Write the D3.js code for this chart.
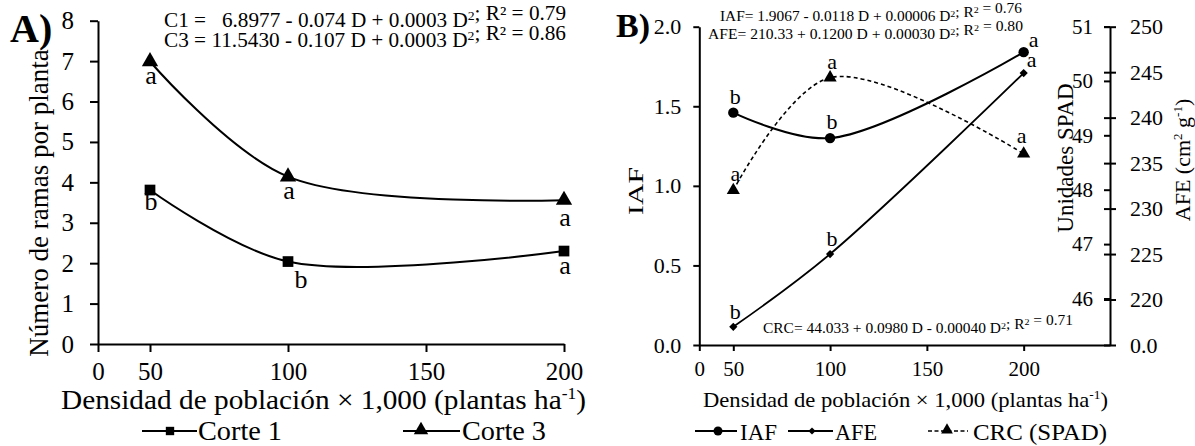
<!DOCTYPE html>
<html><head><meta charset="utf-8">
<script src="https://cdn.jsdelivr.net/npm/d3@7"></script>
<style>
html,body{margin:0;padding:0;background:#fff;}
</style></head>
<body><svg id="chart" width="1195" height="446" font-family="Liberation Serif"></svg>
<script>
// ---------- data ----------
const densities = [50, 100, 200];
const xTickValues = [0, 50, 100, 150, 200];
// Panel A
const corte1 = [3.81, 2.04, 2.30];
const corte3 = [6.99, 4.14, 3.56];
const corte1Letters = ["b", "b", "a"];
const corte3Letters = ["a", "a", "a"];
const yTicksA = [0, 1, 2, 3, 4, 5, 6, 7, 8];
// Panel B
const iaf = [1.46, 1.30, 1.84];
const afe = [217.0, 225.0, 244.9];
const crc = [47.99, 50.06, 48.66];
const iafLetters = ["b", "b", "a"];
const afeLetters = ["b", "b", "a"];
const crcLetters = ["a", "a", "a"];
const iafTicks = [0, 0.5, 1.0, 1.5, 2.0];
const spadTicks = [46, 47, 48, 49, 50, 51];
const afeTicks = [215, 220, 225, 230, 235, 240, 245, 250];
const afeTickLabels = ["0.0", "220", "225", "230", "235", "240", "245", "250"];

const svg = d3.select("#chart");
const FAM = "Liberation Serif";

function styleAxis(g, fs) {
  g.attr("font-family", FAM);
  g.selectAll("path.domain").attr("stroke", "#000").attr("stroke-width", 2);
  g.selectAll(".tick line").attr("stroke", "#000").attr("stroke-width", 2);
  g.selectAll(".tick text").attr("font-size", fs).attr("fill", "#000").attr("font-family", FAM);
}
function txt(x, y, fs) {
  return svg.append("text").attr("x", x).attr("y", y).attr("font-size", fs).attr("font-family", FAM).attr("fill", "#000");
}
function stretch(t, len) {
  t.attr("textLength", len).attr("lengthAdjust", "spacingAndGlyphs");
  return t;
}

// =============== PANEL A ===============
const xA = d3.scaleLinear().domain([0, 50, 200]).range([98, 150, 564]);
const yA = d3.scaleLinear().domain([0, 8]).range([344, 20.7]);

const gxA = svg.append("g").attr("transform", `translate(0,${yA(0)})`)
  .call(d3.axisBottom(xA).tickValues(xTickValues).tickSize(8).tickSizeOuter(0).tickPadding(10).tickFormat(d3.format("d")));
styleAxis(gxA, 25);
const gyA = svg.append("g").attr("transform", `translate(${xA(0)},0)`)
  .call(d3.axisLeft(yA).tickValues(yTicksA).tickSize(8).tickSizeOuter(0).tickPadding(16).tickFormat(d3.format("d")));
styleAxis(gyA, 25);

const lineA = d3.line().x((d, i) => xA(densities[i])).y(d => yA(d)).curve(d3.curveCatmullRom.alpha(0.5));
svg.append("path").attr("d", lineA(corte1)).attr("fill", "none").attr("stroke", "#000").attr("stroke-width", 2);
svg.append("path").attr("d", lineA(corte3)).attr("fill", "none").attr("stroke", "#000").attr("stroke-width", 2);

const sq = d3.symbol().type(d3.symbolSquare).size(115);
const triA = d3.symbol().type(d3.symbolTriangle).size(115);
svg.selectAll(".m1").data(corte1).join("path").attr("d", sq)
  .attr("transform", (d, i) => `translate(${xA(densities[i])},${yA(d)})`).attr("fill", "#000");
svg.selectAll(".m3").data(corte3).join("path").attr("d", triA)
  .attr("transform", (d, i) => `translate(${xA(densities[i])},${yA(d)})`).attr("fill", "#000");

corte1.forEach((d, i) => {
  txt(xA(densities[i]) + (i === 1 ? 13 : 1), yA(d) + (i === 1 ? 26 : (i === 0 ? 20 : 23)), 26)
    .attr("text-anchor", "middle").text(corte1Letters[i]);
});
corte3.forEach((d, i) => {
  txt(xA(densities[i]) + 1, yA(d) + (i === 2 ? 26 : 22), 26)
    .attr("text-anchor", "middle").text(corte3Letters[i]);
});

// Panel A texts
txt(10, 42, 40).attr("font-weight", "bold").text("A)");

function eqLine(x, y, fs, parts, len) {
  const t = txt(x, y, fs).attr("xml:space", "preserve");
  parts.forEach(p => {
    if (typeof p === "string") t.append("tspan").text(p);
    else t.append("tspan").attr("font-size", fs * 0.65).attr("dy", p.dy).text(p.t);
  });
  if (len) stretch(t, len);
  return t;
}
eqLine(164, 27, 20, ["C1 =   6.8977 - 0.074 D + 0.0003 D", {t: "2", dy: -7}, {t: "", dy: 7}, "; R² = 0.79"], 402);
eqLine(164, 47, 20, ["C3 = 11.5430 - 0.107 D + 0.0003 D", {t: "2", dy: -7}, {t: "", dy: 7}, "; R² = 0.86"], 402);

txt(0, 0, 27).attr("transform", "translate(48,203) rotate(-90)").attr("text-anchor", "middle")
  .text("Número de ramas por planta");

const xtA = txt(61, 409, 27);
xtA.append("tspan").text("Densidad de población × 1,000 (plantas ha");
xtA.append("tspan").attr("font-size", 16).attr("dy", -10).text("-1");
xtA.append("tspan").attr("dy", 10).text(")");
stretch(xtA, 525);

// legend A
svg.append("line").attr("x1", 142).attr("x2", 197).attr("y1", 431).attr("y2", 431).attr("stroke", "#000").attr("stroke-width", 2);
svg.append("path").attr("d", d3.symbol().type(d3.symbolSquare).size(70)).attr("transform", "translate(170,431)");
stretch(txt(198, 440, 27).text("Corte 1"), 84);
svg.append("line").attr("x1", 403).attr("x2", 460).attr("y1", 431).attr("y2", 431).attr("stroke", "#000").attr("stroke-width", 2);
svg.append("path").attr("d", d3.symbol().type(d3.symbolTriangle).size(90)).attr("transform", "translate(421,430)");
stretch(txt(462, 440, 27).text("Corte 3"), 84);

// =============== PANEL B ===============
const xB = d3.scaleLinear().domain([0, 50, 244.6]).range([699.3, 733.3, 1110]);
const yIAF = d3.scaleLinear().domain([0, 2]).range([345, 26.7]);
const ySPAD = d3.scaleLinear().domain([46, 51]).range([298.5, 26.5]);
const yAFE = d3.scaleLinear().domain([215, 250]).range([345, 26.7]);

const gxB = svg.append("g").attr("transform", `translate(0,${yIAF(0)})`)
  .call(d3.axisBottom(xB).tickValues(xTickValues).tickSize(6).tickSizeOuter(0).tickPadding(10).tickFormat(d3.format("d")));
styleAxis(gxB, 21);
const gyB = svg.append("g").attr("transform", `translate(${xB(0)},0)`)
  .call(d3.axisLeft(yIAF).tickValues(iafTicks).tickSize(6).tickSizeOuter(0).tickPadding(12).tickFormat(d3.format(".1f")));
styleAxis(gyB, 22);
const xR = xB(244.6);
const gAfe = svg.append("g").attr("transform", `translate(${xR},0)`)
  .call(d3.axisRight(yAFE).tickValues(afeTicks).tickSize(6).tickSizeOuter(0).tickPadding(14)
    .tickFormat((d, i) => afeTickLabels[i]));
styleAxis(gAfe, 22);
gAfe.selectAll(".tick line").attr("x1", -6);
const gSpad = svg.append("g").attr("transform", `translate(${xR},0)`)
  .call(d3.axisLeft(ySPAD).tickValues(spadTicks).tickSize(6).tickSizeOuter(0).tickPadding(11).tickFormat(d3.format("d")));
styleAxis(gSpad, 21);
gSpad.select("path.domain").remove();

const lineIAF = d3.line().x((d, i) => xB(densities[i])).y(d => yIAF(d)).curve(d3.curveCatmullRom.alpha(0.5));
const lineAFE = d3.line().x((d, i) => xB(densities[i])).y(d => yAFE(d)).curve(d3.curveCatmullRom.alpha(0.5));
const lineCRC = d3.line().x((d, i) => xB(densities[i])).y(d => ySPAD(d)).curve(d3.curveCatmullRom.alpha(0.5));
svg.append("path").attr("d", lineCRC(crc)).attr("fill", "none").attr("stroke", "#000").attr("stroke-width", 1.6).attr("stroke-dasharray", "4,3");
svg.append("path").attr("d", lineIAF(iaf)).attr("fill", "none").attr("stroke", "#000").attr("stroke-width", 2);
svg.append("path").attr("d", lineAFE(afe)).attr("fill", "none").attr("stroke", "#000").attr("stroke-width", 1.8);

svg.selectAll(".mi").data(iaf).join("circle").attr("cx", (d, i) => xB(densities[i])).attr("cy", d => yIAF(d)).attr("r", 5.2).attr("fill", "#000");
const dia = d3.symbol().type(d3.symbolSquare).size(34);
svg.selectAll(".ma").data(afe).join("path").attr("d", dia)
  .attr("transform", (d, i) => `translate(${xB(densities[i])},${yAFE(d)}) rotate(45)`).attr("fill", "#000");
const triB = d3.symbol().type(d3.symbolTriangle).size(75);
svg.selectAll(".mc").data(crc).join("path").attr("d", triB)
  .attr("transform", (d, i) => `translate(${xB(densities[i])},${ySPAD(d)})`).attr("fill", "#000");

iaf.forEach((d, i) => {
  txt(xB(densities[i]) + (i === 2 ? 10 : 2), yIAF(d) + (i === 2 ? -5 : -9), 22).attr("text-anchor", "middle").text(iafLetters[i]);
});
afe.forEach((d, i) => {
  txt(xB(densities[i]) + (i === 2 ? 8 : 2), yAFE(d) + (i === 2 ? -6 : -8), 22).attr("text-anchor", "middle").text(afeLetters[i]);
});
crc.forEach((d, i) => {
  txt(xB(densities[i]) + (i === 2 ? -2 : 2), ySPAD(d) + (i === 2 ? -11 : -9), 22).attr("text-anchor", "middle").text(crcLetters[i]);
});

// Panel B texts
txt(616, 37, 34).attr("font-weight", "bold").text("B)");
eqLine(720, 21, 14, ["IAF= 1.9067 - 0.0118 D + 0.00006 D", {t: "2", dy: -4}, {t: "", dy: 4}, "; R", {t: "2", dy: -4}, {t: "", dy: 4}, " = 0.76"], 302);
eqLine(708, 39, 14, ["AFE= 210.33 + 0.1200 D + 0.00030 D", {t: "2", dy: -4}, {t: "", dy: 4}, "; R", {t: "2", dy: -4}, {t: "", dy: 4}, " = 0.80"], 315);
eqLine(763, 333, 14, ["CRC= 44.033 + 0.0980 D - 0.00040 D", {t: "2", dy: -4}, {t: "", dy: 4}, "; R", {t: "2", dy: -4}, {t: "", dy: 4}, " = 0.71"], 310);

stretch(txt(0, 0, 22).attr("transform", "translate(643,167) rotate(-90)").attr("text-anchor", "end").text("IAF"), 48);
txt(0, 0, 23).attr("transform", "translate(1073,158) rotate(-90)").attr("text-anchor", "middle").text("Unidades SPAD");
const afeT = txt(0, 0, 22).attr("transform", "translate(1190,160) rotate(-90)").attr("text-anchor", "middle");
afeT.append("tspan").text("AFE (cm");
afeT.append("tspan").attr("font-size", 13).attr("dy", -8).text("2");
afeT.append("tspan").attr("dy", 8).text(" g");
afeT.append("tspan").attr("font-size", 13).attr("dy", -8).text("-1");
afeT.append("tspan").attr("dy", 8).text(")");

const xtB = txt(703, 407, 22);
xtB.append("tspan").text("Densidad de población × 1,000 (plantas ha");
xtB.append("tspan").attr("font-size", 13).attr("dy", -8).text("-1");
xtB.append("tspan").attr("dy", 8).text(")");
stretch(xtB, 405);

// legend B
svg.append("line").attr("x1", 695).attr("x2", 737).attr("y1", 431).attr("y2", 431).attr("stroke", "#000").attr("stroke-width", 2);
svg.append("circle").attr("cx", 718).attr("cy", 431).attr("r", 4.5);
stretch(txt(740, 440, 24).text("IAF"), 37);
svg.append("line").attr("x1", 788).attr("x2", 833).attr("y1", 431).attr("y2", 431).attr("stroke", "#000").attr("stroke-width", 2);
svg.append("path").attr("d", d3.symbol().type(d3.symbolSquare).size(26)).attr("transform", "translate(812,431) rotate(45)");
stretch(txt(835, 440, 24).text("AFE"), 42);
svg.append("line").attr("x1", 928).attr("x2", 968).attr("y1", 431).attr("y2", 431).attr("stroke", "#000").attr("stroke-width", 1.5).attr("stroke-dasharray", "4,2.5");
svg.append("path").attr("d", d3.symbol().type(d3.symbolTriangle).size(60)).attr("transform", "translate(947,430)");
stretch(txt(973, 440, 24).text("CRC (SPAD)"), 134);
</script></body></html>
